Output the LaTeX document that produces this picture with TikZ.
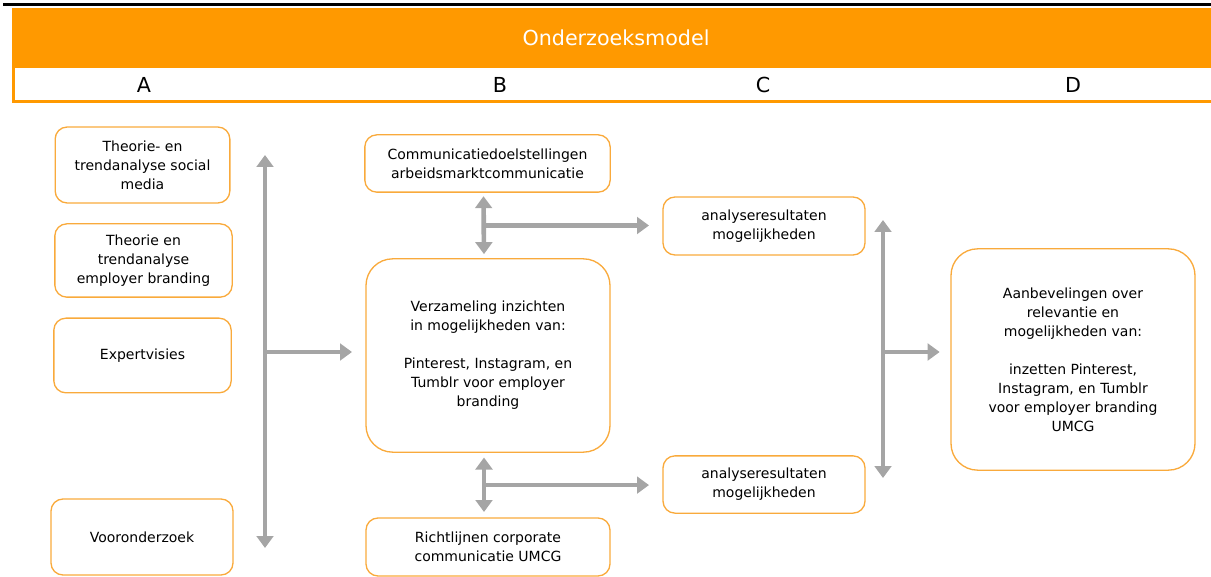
\documentclass[tikz,border=0pt]{standalone}
\usepackage{fontspec}
\setmainfont{DejaVu Sans}
\usepackage{tikz}
\usetikzlibrary{arrows.meta, positioning, calc}
\definecolor{kop}{RGB}{255,153,0}
\definecolor{rand}{RGB}{249,170,60}
\definecolor{grijs}{RGB}{165,165,165}

\begin{document}
\begin{tikzpicture}[x=0.75pt, y=-0.75pt, font=\fontsize{10.5}{14.25}\selectfont,
    blok/.style={draw=rand, line width=1pt, rounded corners=9pt, align=center, inner sep=0pt},
    grootblok/.style={blok, rounded corners=20pt, minimum width=183pt},
    pijl/.style={draw=grijs, line width=3.5pt, -{Triangle[length=9pt, width=12.5pt]}},
    dubbel/.style={pijl, {Triangle[length=9pt, width=12.5pt]}-{Triangle[length=9pt, width=12.5pt]}}]
    \useasboundingbox (0,0) rectangle (1211,577);
    \draw[line width=2.25pt] (3,5) -- (1211,5);
    \fill[kop] (12,8) rectangle (1211,103);
    \fill[white] (15,68) rectangle (1211,100);
    \node (titel) [text=white, font=\fontsize{15.5}{18}\selectfont] at (616,38) {Onderzoeksmodel};
    \foreach \k/\x in {A/144, B/500, C/763, D/1073}
        \node (kol\k) [font=\fontsize{15.5}{18}\selectfont] at (\x,85) {\k};

    \node (a1) [blok, minimum width=131pt, minimum height=57pt] at (142.5,165) {Theorie- en\\trendanalyse social\\media};
    \node (a2) [blok, minimum width=133pt, minimum height=55pt] at (143.5,260.5) {Theorie en\\trendanalyse\\employer branding};
    \node (a3) [blok, minimum width=133pt, minimum height=56pt] at (142.5,355.5) {Expertvisies};
    \node (a4) [blok, minimum width=136.5pt, minimum height=57pt] at (142,537) {Vooronderzoek};

    \node (b1) [blok, minimum width=184pt, minimum height=43pt] at (487.5,163.5) {Communicatiedoelstellingen\\arbeidsmarktcommunicatie};
    \node (b2) [grootblok, minimum height=145pt] at (488,355.5) {Verzameling inzichten\\in mogelijkheden van:\\[\baselineskip]Pinterest, Instagram, en\\Tumblr voor employer\\branding};
    \node (b3) [blok, minimum width=183pt, minimum height=43.5pt] at (488,547) {Richtlijnen corporate\\communicatie UMCG};

    \node (c1) [blok, minimum width=151.5pt, minimum height=43.5pt] at (764,226) {analyseresultaten\\mogelijkheden};
    \node (c2) [blok, minimum width=151.5pt, minimum height=43pt] at (764,484.5) {analyseresultaten\\mogelijkheden};

    \node (d) [grootblok, minimum height=166pt] at (1073,359.5) {Aanbevelingen over\\relevantie en\\mogelijkheden van:\\[\baselineskip]inzetten Pinterest,\\Instagram, en Tumblr\\voor employer branding\\UMCG};

    \coordinate (aBoven) at (265,155);
    \coordinate (aOnder) at (265,548);
    \coordinate (aMidden) at (265,352);
    \draw[dubbel] (aBoven) -- (aOnder);
    \draw[pijl, shorten >=10pt] (aMidden) -- (aMidden -| b2.west);

    \coordinate (m1) at ($(b1.south)!0.5!(b2.north)+(-4,0)$);
    \draw[dubbel] ([xshift=-3pt, yshift=-2.5pt]b1.south) -- ([xshift=-3pt, yshift=3pt]b2.north);
    \draw[pijl, shorten >=10pt] (m1) -- (m1 -| c1.west);

    \coordinate (m2) at ($(b2.south)!0.5!(b3.north)+(-4,0)$);
    \draw[dubbel] ([xshift=-3pt, yshift=-3.5pt]b2.south) -- ([xshift=-3pt, yshift=4pt]b3.north);
    \draw[pijl, shorten >=10pt] (m2) -- (m2 -| c2.west);

    \coordinate (cBoven) at (883,220);
    \coordinate (cOnder) at (883,478);
    \coordinate (cMidden) at ($(cBoven)!0.5!(cOnder)+(0,3)$);
    \draw[dubbel] (cBoven) -- (cOnder);
    \draw[pijl, shorten >=8pt] (cMidden) -- (cMidden -| d.west);
\end{tikzpicture}
\end{document}
